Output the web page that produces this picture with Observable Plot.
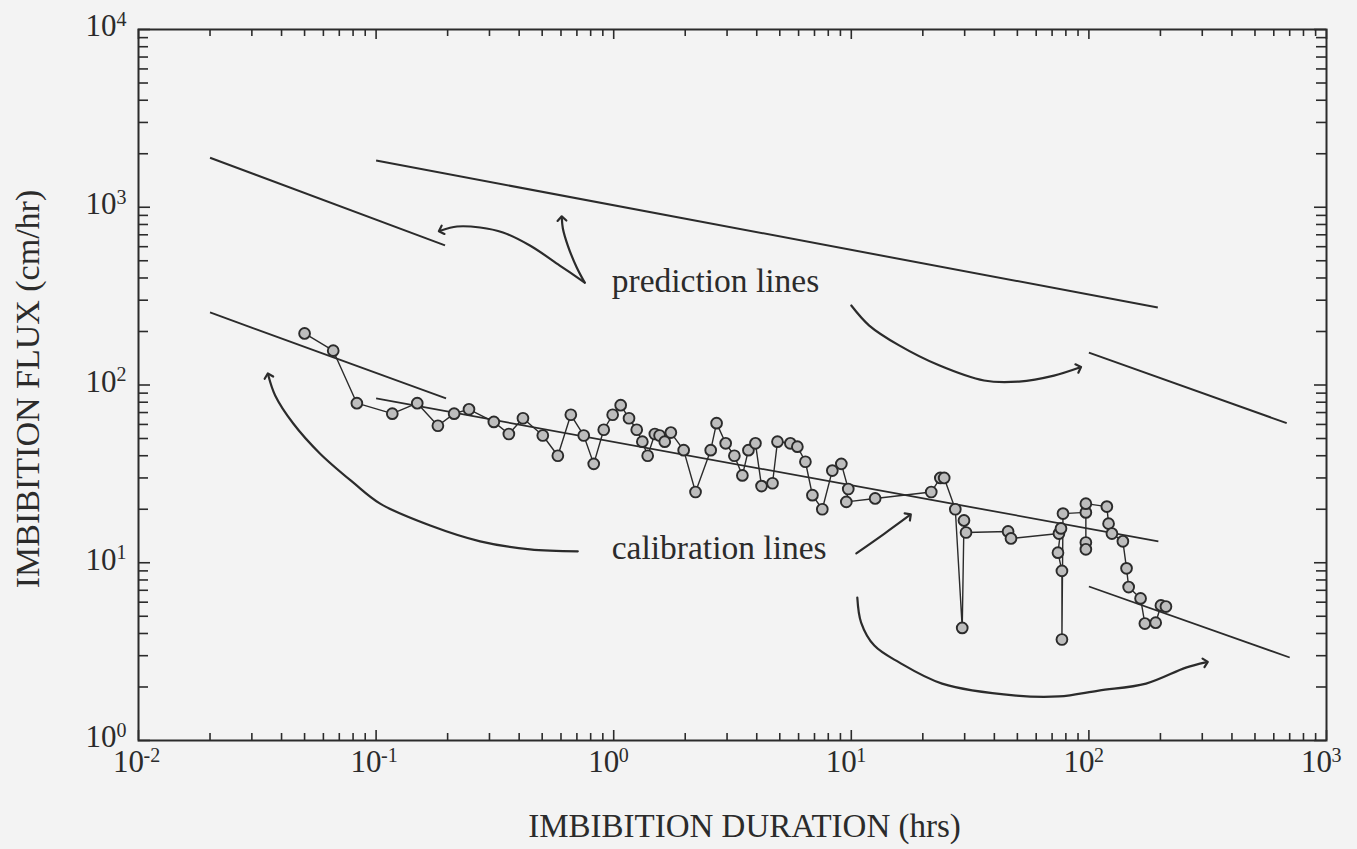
<!DOCTYPE html>
<html><head><meta charset="utf-8">
<script src="https://cdn.jsdelivr.net/npm/d3@7"></script>
<script src="https://cdn.jsdelivr.net/npm/@observablehq/plot@0.6"></script>
<style>html,body{margin:0;padding:0;background:#f3f3f3;}</style>
</head><body><div id="chart"></div>
<script>
// Measured imbibition flux series (time in hrs, flux in cm/hr), in drawing order
const timeHrs = [0.050,0.066,0.083,0.117,0.149,0.182,0.213,0.246,0.313,0.362,0.415,0.503,0.582,0.660,0.748,0.824,0.908,0.990,1.07,1.16,1.25,1.32,1.39,1.49,1.56,1.64,1.74,1.97,2.21,2.56,2.71,2.96,3.22,3.48,3.69,3.95,4.19,4.66,4.89,5.54,5.93,6.41,6.86,7.55,8.32,9.08,9.71,9.53,12.6,21.7,23.7,24.6,27.4,29.3,29.8,30.4,45.7,47.0,74.8,76.3,74.1,77.0,77.0,77.8,97.1,97.1,97.1,97.1,119,121,125,139,144,147,165,172,191,201,211];
const fluxCmHr = [195,156,79,69,79,59,69,73,62,53,65,52,40,68,52,36,56,68,77,65,56,48,40,53,52,48,54,43,25,43,61,47,40,31,43,47,27,28,48,47,45,37,24,20,33,36,26,22,23,25,30,30,20,4.3,17.3,14.8,15.0,13.7,14.6,15.6,11.4,9.0,3.7,18.9,19.2,13.0,11.9,21.5,20.7,16.6,14.6,13.2,9.3,7.3,6.3,4.55,4.6,5.75,5.67];

// Straight fitted lines
const predictionLines = [
  {x1:0.02, y1:1900, x2:0.195, y2:610},
  {x1:0.1, y1:1830, x2:195, y2:273},
  {x1:100, y1:152, x2:680, y2:61}
];
const calibrationLines = [
  {x1:0.02, y1:256, x2:0.197, y2:84},
  {x1:0.1, y1:84, x2:196, y2:13.2},
  {x1:100, y1:7.35, x2:700, y2:2.93}
];

// Hand-drawn annotation arrows (data coordinates)
const arrowPredLeftX = [0.755,0.593,0.444,0.342,0.274,0.219,0.1875];
const arrowPredLeftY = [377,470,609,721,769,779,740];
const arrowPredUpX = [0.755,0.699,0.641,0.611,0.605];
const arrowPredUpY = [377,458,609,760,864];
const arrowPredRightX = [10.0,11.9,15.9,23.4,36.2,50.8,71.3,90.8];
const arrowPredRightY = [280,216,167,129,106,104.6,113,125];
const arrowCalLeftX = [0.706,0.444,0.274,0.169,0.104,0.080,0.058,0.0448,0.0376,0.0352];
const arrowCalLeftY = [11.6,11.9,13.2,16.2,21.5,28.3,41.2,60.7,87.3,113];
const arrowCalMidX = [10.5,13.8,17.5];
const arrowCalMidY = [11.3,14.6,18.4];
const arrowCalRightX = [10.6,11.0,12.5,15.9,24.1,49.4,74.8,110,174,256,310];
const arrowCalRightY = [6.37,4.61,3.42,2.75,2.09,1.79,1.77,1.91,2.09,2.57,2.75];

// Text annotations
const annotations = [
  {x:0.981, y:385, text:"prediction lines"},
  {x:0.981, y:12.0, text:"calibration lines"}
];

// Axes
const xMajor = [0.01,0.1,1,10,100,1000];
const xExp = ["-2","-1","0","1","2","3"];
const yMajor = [1,10,100,1000,10000];
const yExp = ["0","1","2","3","4"];
const xTitle = "IMBIBITION DURATION (hrs)";
const yTitle = "IMBIBITION FLUX (cm/hr)";

const xMinor = d3.range(-2,3).flatMap(e => d3.range(2,10).map(k => k*Math.pow(10,e)));
const yMinor = d3.range(0,4).flatMap(e => d3.range(2,10).map(k => k*Math.pow(10,e)));

const W = 1357, H = 849, mL = 138, mR = 31, mT = 29, mB = 109;
const iw = W - mL - mR, ih = H - mT - mB;
const ink = "#2b2b2b";
const series = timeHrs.map((t,i) => ({t, f: fluxCmHr[i]}));
const zipXY = (xs, ys) => xs.map((x,i) => ({x, y: ys[i]}));
const arrows = [
  zipXY(arrowPredLeftX, arrowPredLeftY),
  zipXY(arrowPredUpX, arrowPredUpY),
  zipXY(arrowPredRightX, arrowPredRightY),
  zipXY(arrowCalLeftX, arrowCalLeftY),
  zipXY(arrowCalMidX, arrowCalMidY),
  zipXY(arrowCalRightX, arrowCalRightY)
];

const xTicks = (data, len, side) => Plot.tickX(data, {x: d => d, stroke: ink, strokeWidth: 1.6,
  ...(side === "bottom" ? {insetTop: ih - len} : {insetBottom: ih - len})});
const yTicks = (data, len, side) => Plot.tickY(data, {y: d => d, stroke: ink, strokeWidth: 1.6,
  ...(side === "left" ? {insetRight: iw - len} : {insetLeft: iw - len})});

const chart = Plot.plot({
  width: W, height: H,
  marginLeft: mL, marginRight: mR, marginTop: mT, marginBottom: mB,
  style: {background: "#f3f3f3", fontFamily: "'Liberation Serif', 'DejaVu Serif', serif", color: ink},
  x: {type: "log", domain: [0.01, 1000], axis: null},
  y: {type: "log", domain: [1, 10000], axis: null},
  marks: [
    xTicks(xMinor, 7, "bottom"), xTicks(xMajor, 10, "bottom"),
    xTicks(xMinor, 7, "top"), xTicks(xMajor, 10, "top"),
    yTicks(yMinor, 10, "left"), yTicks(yMajor, 12, "left"),
    yTicks(yMinor, 10, "right"), yTicks(yMajor, 12, "right"),
    Plot.frame({stroke: ink, strokeWidth: 2}),
    Plot.link(predictionLines, {x1:"x1", y1:"y1", x2:"x2", y2:"y2", stroke: ink, strokeWidth: 2}),
    Plot.link(calibrationLines, {x1:"x1", y1:"y1", x2:"x2", y2:"y2", stroke: ink, strokeWidth: 1.8}),
    ...arrows.map(a => Plot.line(a, {x:"x", y:"y", curve:"catmull-rom", stroke: ink, strokeWidth: 2.2, markerEnd: "arrow"})),
    Plot.line(series, {x:"t", y:"f", stroke: ink, strokeWidth: 1.4}),
    Plot.dot(series, {x:"t", y:"f", r: 5.4, fill: "#bdbdbd", stroke: ink, strokeWidth: 1.9}),
    Plot.text(annotations, {x:"x", y:"y", text:"text", textAnchor:"start", lineAnchor:"middle", fontSize: 33.5, fill: ink}),
    // x tick labels
    Plot.text(xMajor, {x: d => d, frameAnchor: "bottom", lineAnchor: "middle", textAnchor: "middle", dy: 22, dx: -10, text: () => "10", fontSize: 31, fill: ink}),
    Plot.text(xMajor, {x: d => d, frameAnchor: "bottom", lineAnchor: "middle", dy: 15, dx: 5, text: (d,i) => xExp[i], textAnchor: "start", fontSize: 20, fill: ink}),
    // y tick labels
    Plot.text(yMajor, {y: d => d, frameAnchor: "left", lineAnchor: "middle", dx: -22, dy: -3, text: () => "10", textAnchor: "end", fontSize: 31, fill: ink}),
    Plot.text(yMajor, {y: d => d, frameAnchor: "left", lineAnchor: "middle", dx: -22, dy: -10, text: (d,i) => yExp[i], textAnchor: "start", fontSize: 20, fill: ink}),
    // axis titles
    Plot.text([xTitle], {frameAnchor: "bottom", lineAnchor: "middle", textAnchor: "middle", dy: 86, dx: 12, text: d => d, fontSize: 33, fill: ink}),
    Plot.text([yTitle], {frameAnchor: "left", lineAnchor: "middle", textAnchor: "middle", dx: -110, dy: 4, rotate: -90, text: d => d, fontSize: 34, fill: ink})
  ]
});
document.getElementById("chart").appendChild(chart);
</script>
</body></html>
